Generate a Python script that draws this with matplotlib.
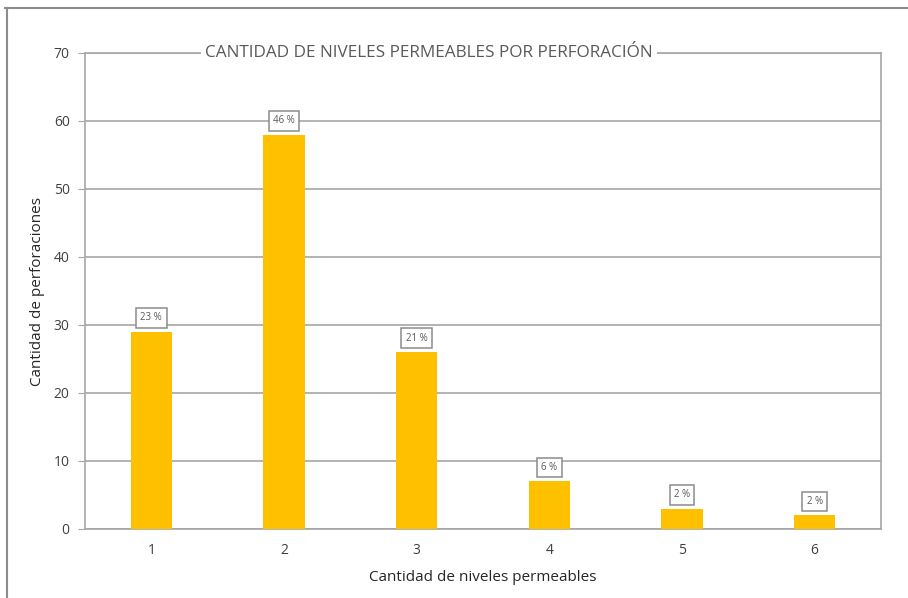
import numpy as np
import matplotlib.pyplot as plt
from matplotlib.lines import Line2D

plt.rcParams['font.family'] = ['Open Sans', 'DejaVu Sans']

# niveles permeables por perforacion
niveles = [1, 2, 3, 4, 5, 6]
perforaciones = [29, 58, 26, 7, 3, 2]

titulo = "CANTIDAD DE NIVELES PERMEABLES POR PERFORACIÓN"
etiquetaX = "Cantidad de niveles permeables"
etiquetaY = "Cantidad de perforaciones"

total = sum(perforaciones)
porcentajes = [round(100. * v / total) for v in perforaciones]

colorBarra = '#FFC000'
gris = '#A6A6A6'
textoGris = '#404040'

fig = plt.figure(figsize=(9.08, 5.98), dpi=100)
ax = fig.add_axes([85/908., 69/598., 796/908., 476/598.])

ax.bar(niveles, perforaciones, width=0.31, color=colorBarra, zorder=3)

ax.set_xlim(0.5, 6.5)
ax.set_ylim(0, 70)
ax.set_yticks(np.arange(0, 71, 10))
ax.set_xticks(niveles)

ax.yaxis.grid(True, color=gris, linewidth=1.2, zorder=0)
for s in ax.spines.values():
    s.set_color(gris)
    s.set_linewidth(1.2)

ax.tick_params(axis='y', length=5, color=gris, labelsize=10, labelcolor=textoGris, pad=6)
ax.tick_params(axis='x', length=0, labelsize=10, labelcolor=textoGris, pad=10)

ax.set_xlabel(etiquetaX, fontsize=11, color='#262626', labelpad=9)
ax.set_ylabel(etiquetaY, fontsize=11, color='#262626', labelpad=6)

# etiquetas de porcentaje sobre cada barra
for x, v, p in zip(niveles, perforaciones, porcentajes):
    ax.annotate("%d %%" % p, xy=(x, v), xytext=(0, 10), textcoords='offset points',
                ha='center', va='center', fontsize=7, color='#595959', zorder=5,
                bbox=dict(boxstyle='square,pad=0.45', fc='white', ec='#8C8C8C', lw=1.1))

# titulo sobre la linea superior
ax.text(0.5 + 120/132.67, 70, titulo, ha='left', va='center', fontsize=12.3,
        color='#595959', zorder=6, clip_on=False,
        bbox=dict(boxstyle='square,pad=0.25', fc='white', ec='none'))

# marco exterior
fig.add_artist(Line2D([5/908., 1.0], [1 - 8/598., 1 - 8/598.], color='#8C8C8C', lw=1.5))
fig.add_artist(Line2D([7/908., 7/908.], [0.0, 1 - 8/598.], color='#8C8C8C', lw=1.5))

plt.savefig('out.png', dpi=100)
